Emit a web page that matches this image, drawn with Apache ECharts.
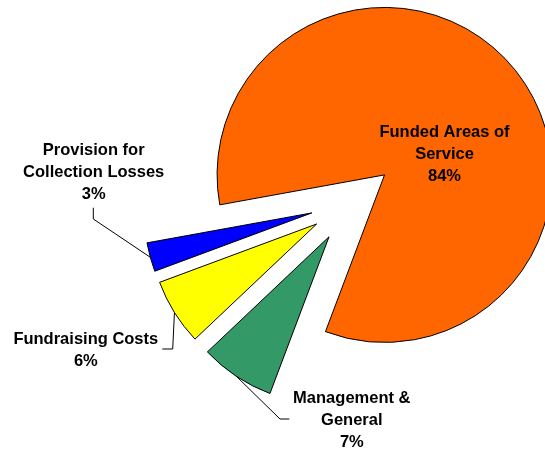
<!DOCTYPE html>
<html><head><meta charset="utf-8">
<script src="https://cdn.jsdelivr.net/npm/echarts@6/dist/echarts.min.js"></script>
<style>html,body{margin:0;padding:0;background:#fff}#c{width:545px;height:453px}</style>
</head><body><div id="c"></div>
<script>
// Data
const categories = ['Funded Areas of\nService', 'Management &\nGeneral', 'Fundraising Costs', 'Provision for\nCollection Losses'];
const values = [83.6, 7.2, 6.4, 2.8];
const colors = ['#FF6600', '#339966', '#FFFF00', '#0000FF'];

// Layout (pie geometry, label centres and leader-line bends)
const PIE_CENTER = [352.3, 201.8];
const PIE_RADIUS = 167.5;
const START_ANGLE = 190.3;
const EXPLODE = 42;
const labelPos = [[444.5, 154], [351.8, 420], [85.8, 350.5], [93.7, 172]];
const leaderBends = [null, [[280, 419], [289.3, 419]], [[172.7, 349], [162.3, 349]], [[93.3, 219], [93.3, 207.7]]];

const labelStyle = {
  fontFamily: 'Liberation Sans',
  fontWeight: 'bold',
  fontSize: 16.5,
  lineHeight: 22,
  color: '#000',
  align: 'center'
};

const chart = echarts.init(document.getElementById('c'), null, {renderer: 'canvas'});
chart.setOption({
  animation: false,
  backgroundColor: '#fff',
  series: [{
    // exploded slices
    type: 'pie',
    center: PIE_CENTER,
    radius: PIE_RADIUS,
    startAngle: START_ANGLE,
    clockwise: true,
    selectedMode: 'multiple',
    selectedOffset: EXPLODE,
    avoidLabelOverlap: false,
    emphasis: {disabled: true},
    select: {itemStyle: {borderColor: '#000', borderWidth: 1}},
    itemStyle: {borderColor: '#000', borderWidth: 1},
    label: {show: false},
    labelLine: {show: false},
    data: categories.map((c, i) => ({
      name: c, value: values[i], selected: true,
      itemStyle: {color: colors[i]}
    }))
  }, {
    // labels, laid out on the same pie geometry
    type: 'pie',
    center: PIE_CENTER,
    radius: PIE_RADIUS,
    startAngle: START_ANGLE,
    clockwise: true,
    silent: true,
    z: 5,
    avoidLabelOverlap: false,
    emphasis: {disabled: true},
    itemStyle: {color: 'rgba(0,0,0,0)', borderWidth: 0},
    label: Object.assign({
      show: true,
      position: 'outside',
      formatter: p => p.name + '\n' + Math.round(p.percent) + '%'
    }, labelStyle),
    labelLine: {show: true, lineStyle: {color: '#000', width: 1}},
    labelLayout: function (p) {
      const i = p.dataIndex;
      const out = {x: labelPos[i][0], y: labelPos[i][1], align: 'center', verticalAlign: 'middle'};
      if (leaderBends[i] && p.labelLinePoints) {
        const a = p.labelLinePoints[0];
        const vx = a[0] - PIE_CENTER[0], vy = a[1] - PIE_CENTER[1];
        const len = Math.sqrt(vx * vx + vy * vy) || 1;
        const anchor = [a[0] + vx / len * EXPLODE, a[1] + vy / len * EXPLODE];
        out.labelLinePoints = [anchor, leaderBends[i][0], leaderBends[i][1]];
      }
      return out;
    },
    data: categories.map((c, i) => ({
      name: c, value: values[i],
      labelLine: {show: i !== 0}
    }))
  }]
});
</script></body></html>
